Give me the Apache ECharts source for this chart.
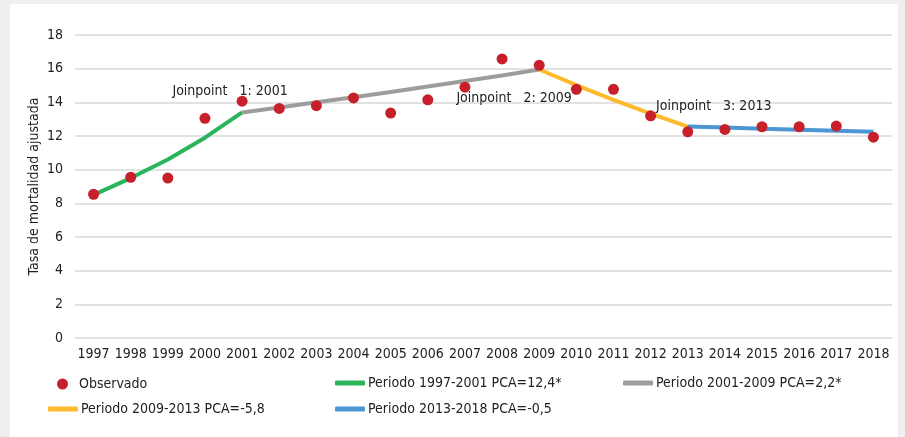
<!DOCTYPE html>
<html>
<head>
<meta charset="utf-8">
<script src="https://cdn.jsdelivr.net/npm/echarts@6/dist/echarts.min.js"></script>
<style>
  html, body { margin: 0; padding: 0; background: #efefef; }
  #wrap { position: absolute; left: 10px; top: 4px; width: 888px; height: 433px; background: #fff; }
  #chart { position: absolute; left: 0; top: 0; width: 905px; height: 437px; }
</style>
</head>
<body>
<div id="wrap"></div>
<div id="chart"></div>
<script>
// datos
var years = ["1997", "1998", "1999", "2000", "2001", "2002", "2003", "2004", "2005", "2006", "2007",
  "2008", "2009", "2010", "2011", "2012", "2013", "2014", "2015", "2016", "2017", "2018"];
var observado = [8.54, 9.55, 9.5, 13.05, 14.07, 13.64, 13.8, 14.26, 13.36, 14.15, 14.9,
  16.58, 16.2, 14.77, 14.77, 13.2, 12.25, 12.39, 12.55, 12.55, 12.59, 11.93];

// modelos por periodo (desde el año de inicio)
var p1Years = ["1997", "1998", "1999", "2000", "2001"];
var p1 = [8.5, 9.5, 10.6, 11.9, 13.4];
var p2Years = ["2001", "2002", "2003", "2004", "2005", "2006", "2007", "2008", "2009"];
var p2 = [13.4, 13.69, 14.0, 14.3, 14.62, 14.94, 15.27, 15.6, 15.95];
var p3Years = ["2009", "2010", "2011", "2012", "2013"];
var p3 = [15.95, 15.02, 14.15, 13.33, 12.56];
var p4Years = ["2013", "2014", "2015", "2016", "2017", "2018"];
var p4 = [12.56, 12.5, 12.43, 12.37, 12.31, 12.25];

var names = ["Observado", "Periodo 1997-2001 PCA=12,4*", "Periodo 2001-2009 PCA=2,2*",
  "Periodo 2009-2013 PCA=-5,8", "Periodo 2013-2018 PCA=-0,5"];

var joinpoints = [
  { text: "Joinpoint   1: 2001", year: "2001", value: 14.67, dx: -12 },
  { text: "Joinpoint   2: 2009", year: "2008", value: 14.24, dx: 12 },
  { text: "Joinpoint   3: 2013", year: "2013", value: 13.78, dx: 26 }
];

var font = "'Liberation Sans Narrow', 'DejaVu Sans Condensed', sans-serif";
var chart = echarts.init(document.getElementById("chart"));

function pairs(xs, ys) {
  return xs.map(function (x, i) { return [x, ys[i]]; });
}

function legendAt(name, left, top, icon) {
  var dot = icon === "circle";
  return {
    data: [{ name: name, icon: icon }],
    left: left, top: top,
    itemWidth: dot ? 11 : 30, itemHeight: dot ? 11 : 5, itemGap: 0,
    textStyle: { fontFamily: font, fontSize: 14, color: "#222", padding: [0, 0, 0, dot ? 6 : -2] },
    padding: 0
  };
}

function fitLine(name, data, color) {
  return {
    name: name, type: "line", data: data, symbol: "none",
    lineStyle: { width: 4, color: color }, itemStyle: { color: color },
    z: 2, silent: true
  };
}

var option = {
  animation: false,
  textStyle: { fontFamily: font },
  grid: { left: 75, right: 13, top: 35, bottom: 99 },
  legend: [
    legendAt(names[0], 57, 377, "circle"),
    legendAt(names[1], 335, 376, "roundRect"),
    legendAt(names[2], 623, 376, "roundRect"),
    legendAt(names[3], 48, 402, "roundRect"),
    legendAt(names[4], 335, 402, "roundRect")
  ],
  xAxis: {
    type: "category",
    data: years,
    boundaryGap: true,
    axisLine: { show: false },
    axisTick: { show: false },
    axisLabel: { fontFamily: font, fontSize: 14, color: "#222", margin: 9, interval: 0 }
  },
  yAxis: {
    type: "value",
    min: 0, max: 18, interval: 2,
    name: "Tasa de mortalidad ajustada",
    nameLocation: "middle",
    nameGap: 34,
    nameMoveOverlap: false,
    nameTextStyle: { fontFamily: font, fontSize: 14, color: "#222" },
    axisLine: { show: false },
    axisTick: { show: false },
    axisLabel: { fontFamily: font, fontSize: 14, color: "#222", margin: 12 },
    splitLine: { lineStyle: { color: "#d9d9d9", width: 1.5 } }
  },
  series: [
    fitLine(names[1], pairs(p1Years, p1), "#2bb55a"),
    fitLine(names[2], pairs(p2Years, p2), "#9d9d9d"),
    fitLine(names[3], pairs(p3Years, p3), "#fdba2d"),
    fitLine(names[4], pairs(p4Years, p4), "#4c96d4"),
    {
      name: names[0], type: "scatter", data: observado,
      symbolSize: 11, itemStyle: { color: "#c7202b", opacity: 1 }, z: 5
    },
    {
      type: "scatter", symbolSize: 1, silent: true, z: 6,
      itemStyle: { color: "rgba(0,0,0,0)", opacity: 1 },
      labelLayout: function (p) {
        return { dx: joinpoints[p.dataIndex].dx, hideOverlap: false };
      },
      data: joinpoints.map(function (j) {
        return { value: [j.year, j.value], name: j.text };
      }),
      label: {
        show: true, position: "inside", formatter: "{b}",
        fontFamily: font, fontSize: 14, color: "#222", textBorderWidth: 0
      }
    }
  ]
};

chart.setOption(option);
</script>
</body>
</html>
